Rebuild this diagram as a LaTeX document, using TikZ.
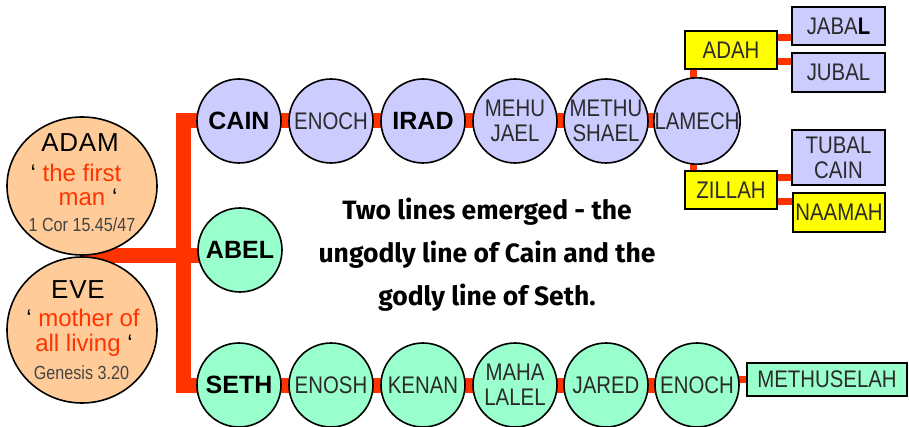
\documentclass[tikz,border=0pt]{standalone}
\usepackage{fontspec}
\setmainfont{Liberation Sans}
\newfontfamily\narrow[FakeStretch=0.85]{Liberation Sans}
\newfontfamily\spaced[LetterSpace=3]{Liberation Sans}
\newfontfamily\comic{Fira Sans}
\usetikzlibrary{shapes.geometric,backgrounds}
\definecolor{lav}{HTML}{CCCCFF}
\definecolor{mint}{HTML}{99FFCC}
\definecolor{peach}{HTML}{FFCC99}
\definecolor{yel}{HTML}{FFFF00}
\definecolor{redl}{HTML}{FF3300}
\definecolor{txt}{HTML}{2B2B2B}
\definecolor{gtxt}{HTML}{444444}
\begin{document}
\begin{tikzpicture}[x=1pt,y=-1pt,
  gen/.style={circle,draw=black,line width=1.6pt,minimum size=84pt,inner sep=0pt,
    font=\narrow\fontsize{24}{25}\selectfont,text=txt,align=center},
  boldname/.style={font=\bfseries\fontsize{25}{26}\selectfont,text=black},
  cainline/.style={gen,fill=lav},
  sethline/.style={gen,fill=mint},
  namebox/.style={rectangle,draw=black,line width=1.6pt,inner sep=0pt,
    font=\narrow\fontsize{24}{25}\selectfont,text=txt,align=center},
  parent/.style={ellipse,draw=black,line width=1.6pt,fill=peach,inner sep=0pt,minimum width=150pt},
  pname/.style={font=\spaced\fontsize{26}{27}\selectfont,text=black,inner sep=0pt},
  ptitle/.style={font=\fontsize{24}{25}\selectfont,text=redl,inner sep=0pt},
  pref/.style={font=\narrow\fontsize{19}{20}\selectfont,text=gtxt,inner sep=0pt},
  mainline/.style={draw=redl,line width=15pt},
  thinline/.style={draw=redl,line width=7pt}]
\useasboundingbox (0,0) rectangle (909,427);

% parents
\node[parent,minimum height=138pt] (adam) at (82,186) {};
\node[parent,minimum height=146pt] (eve) at (82,330) {};
\coordinate (junc) at (84,256);
\coordinate (bx) at (183.5,256);
\node[pname] (adamname) at (80,143) {ADAM};
\node[ptitle] (adamt1) at (76,173) {\textcolor{black}{‘} the first};
\node[ptitle] (adamt2) at (88,197) {man \textcolor{black}{‘}};
\node[pref] (adamref) at (82,225) {1 Cor 15.45/47};
\node[pname] (evename) at (78,290) {EVE};
\node[ptitle] (evet1) at (83,318) {\textcolor{black}{‘} mother of};
\node[ptitle] (evet2) at (84,345) {all living \textcolor{black}{‘}};
\node[pref] (everef) at (81.5,373) {Genesis 3.20};

% line of Cain
\node[cainline,boldname] (cain) at (239,121) {CAIN};
\node[cainline] (enochA) at (331,121) {ENOCH};
\node[cainline,boldname] (irad) at (423,121) {IRAD};
\node[cainline] (mehujael) at (515,121) {MEHU\\JAEL};
\node[cainline] (methushael) at (606,121) {METHU\\SHAEL};
\node[cainline] (lamech) at (697,121) {LAMECH};
\node[namebox,fill=yel,minimum width=92pt,minimum height=38pt] (adah) at (731,50) {ADAH};
\node[namebox,fill=yel,minimum width=92pt,minimum height=38pt] (zillah) at (731,190) {ZILLAH};
\node[namebox,fill=lav,minimum width=93pt,minimum height=38pt] (jabal) at (838.5,26) {JABA{\bfseries\color{black}L}};
\node[namebox,fill=lav,minimum width=93pt,minimum height=39pt] (jubal) at (838.5,72.5) {JUBAL};
\node[namebox,fill=lav,minimum width=93pt,minimum height=55pt] (tubal) at (838.5,157.5) {TUBAL\\CAIN};
\node[namebox,fill=yel,minimum width=92pt,minimum height=39pt] (naamah) at (839,212.5) {NAAMAH};

% Abel
\node[sethline,boldname] (abel) at (240,250) {ABEL};

% line of Seth
\node[sethline,boldname] (seth) at (239,385) {SETH};
\node[sethline] (enosh) at (331,385) {ENOSH};
\node[sethline] (kenan) at (423,385) {KENAN};
\node[sethline] (mahalalel) at (515,385) {MAHA\\LALEL};
\node[sethline] (jared) at (606,385) {JARED};
\node[sethline] (enochB) at (697,385) {ENOCH};
\node[namebox,fill=mint,minimum width=160pt,minimum height=33pt] (methuselah) at (827,379.5) {METHUSELAH};

% text
\node[font=\comic\bfseries\fontsize{26.5}{43}\selectfont,align=center,text=black] (note) at (487,255)
  {Two lines emerged - the\\ungodly line of Cain and the\\godly line of Seth.};

% connectors
\begin{scope}[on background layer]
\draw[mainline] (cain.center) -| (bx) |- (seth.center);
\draw[mainline] (junc) -- (junc -| abel.center);
\draw[mainline] (cain.center) -- (enochA.center);
\draw[mainline] (enochA.center) -- (irad.center);
\draw[mainline] (irad.center) -- (mehujael.center);
\draw[mainline] (mehujael.center) -- (methushael.center);
\draw[mainline] (methushael.center) -- (lamech.center);
\draw[mainline] (seth.center) -- (enosh.center);
\draw[mainline] (enosh.center) -- (kenan.center);
\draw[mainline] (kenan.center) -- (mahalalel.center);
\draw[mainline] (mahalalel.center) -- (jared.center);
\draw[mainline] (jared.center) -- (enochB.center);
\draw[thinline] (enochB.center |- methuselah.west) -- (methuselah.west);
\draw[thinline] ([xshift=-4pt]lamech.center) -- ([xshift=-4pt]lamech.center |- adah.south);
\draw[thinline] ([xshift=-4pt]lamech.center) -- ([xshift=-4pt]lamech.center |- zillah.north);
\draw[thinline] ([yshift=12pt]adah.east) -- ([yshift=12pt]adah.east -| jabal.west);
\draw[thinline] ([yshift=-12pt]adah.east) -- ([yshift=-12pt]adah.east -| jubal.west);
\draw[thinline] ([yshift=12pt]zillah.east) -- ([yshift=12pt]zillah.east -| tubal.west);
\draw[thinline] ([yshift=-12pt]zillah.east) -- ([yshift=-12pt]zillah.east -| naamah.west);
\end{scope}
\end{tikzpicture}
\end{document}
